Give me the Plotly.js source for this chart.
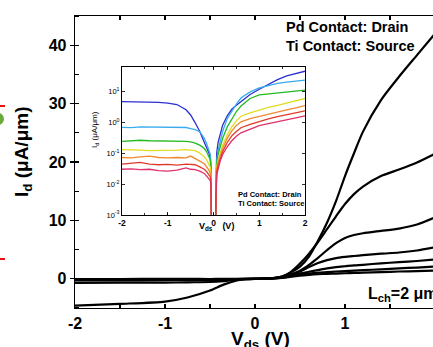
<!DOCTYPE html>
<html>
<head>
<meta charset="utf-8">
<script src="https://cdn.plot.ly/plotly-3.0.1.min.js"></script>
<style>
html,body{margin:0;padding:0;overflow:hidden;background:#fff;width:433px;height:347px;}
#chart{width:437px;height:347px;}
</style>
</head>
<body>
<div id="chart"></div>
<script>
// ---------- Main plot (linear Id vs Vds) ----------
const vMain = [-2, -1.5, -1, -0.75, -0.5, -0.35, -0.2, -0.1, 0, 0.1, 0.2, 0.3, 0.4, 0.5, 0.6, 0.7, 0.8, 0.9, 1.0, 1.1, 1.2, 1.4, 1.6, 1.8, 2.0];
const idMain1 = [-4.6, -4.3, -3.9, -3.2, -2.0, -1.0, -0.3, -0.08, 0, 0.03, 0.12, 0.4, 1.1, 2.1, 3.8, 6.5, 9.6, 13.3, 17.6, 21.5, 25.2, 30.6, 34.6, 38.3, 42.0];
const idMain2 = [-0.7, -0.66, -0.65, -0.6, -0.55, -0.4, -0.15, -0.05, 0, 0.02, 0.1, 0.4, 1.2, 2.6, 4.3, 6.3, 8.5, 10.7, 12.8, 14.5, 15.8, 17.6, 18.7, 19.9, 21.4];
const idMain3 = [-0.26, -0.26, -0.25, -0.25, -0.23, -0.18, -0.1, -0.04, 0, 0.02, 0.1, 0.35, 0.8, 1.4, 2.4, 3.6, 4.9, 6.1, 7.0, 7.5, 7.8, 8.2, 8.6, 9.3, 10.5];
const idMain4 = [-0.13, -0.12, -0.125, -0.125, -0.12, -0.1, -0.06, -0.03, 0, 0.02, 0.1, 0.3, 0.7, 1.25, 2.0, 2.7, 3.2, 3.55, 3.75, 3.9, 4.05, 4.3, 4.5, 4.85, 5.4];
const idMain5 = [-0.072, -0.075, -0.07, -0.072, -0.075, -0.055, -0.04, -0.02, 0, 0.02, 0.08, 0.25, 0.55, 0.9, 1.2, 1.5, 1.8, 2.0, 2.15, 2.3, 2.4, 2.65, 2.85, 3.05, 3.3];
const idMain6 = [-0.044, -0.048, -0.043, -0.041, -0.043, -0.036, -0.03, -0.015, 0, 0.02, 0.07, 0.2, 0.45, 0.7, 0.9, 1.05, 1.15, 1.25, 1.32, 1.4, 1.47, 1.62, 1.78, 1.93, 2.1];
const idMain7 = [-0.03, -0.03, -0.026, -0.028, -0.03, -0.026, -0.022, -0.012, 0, 0.02, 0.06, 0.15, 0.35, 0.55, 0.68, 0.78, 0.85, 0.9, 0.95, 1.0, 1.05, 1.15, 1.25, 1.32, 1.42];

// ---------- Inset (log |Id| vs Vds) ----------
const vInset = [-2, -1.8, -1.6, -1.4, -1.2, -1.0, -0.8, -0.6, -0.5, -0.4, -0.3, -0.2, -0.15, -0.1, -0.07, -0.055, -0.045,
                0.045, 0.05, 0.07, 0.1, 0.15, 0.2, 0.3, 0.4, 0.5, 0.6, 0.8, 1.0, 1.2, 1.4, 1.6, 1.8, 2.0];
const idLog1 = [4.6, 4.55, 4.5, 4.45, 4.35, 4.1, 3.7, 2.5, 1.7, 0.95, 0.5, 0.22, 0.15, 0.1, 0.07, 0.03, 0.0003,
                0.0003, 0.004, 0.1, 0.22, 0.45, 0.8, 1.6, 2.6, 3.5, 4.5, 7.8, 11.5, 16.5, 23.5, 31, 38, 44];
const idLog2 = [0.68, 0.66, 0.7, 0.7, 0.68, 0.7, 0.7, 0.67, 0.62, 0.57, 0.49, 0.3, 0.2, 0.12, 0.09, 0.04, 0.0003,
                0.0003, 0.004, 0.06, 0.12, 0.28, 0.5, 1.3, 2.3, 3.8, 6.0, 9.5, 12.7, 15.3, 17.8, 19.5, 21.2, 22.7];
const idLog3 = [0.24, 0.25, 0.26, 0.25, 0.25, 0.25, 0.25, 0.24, 0.23, 0.21, 0.18, 0.14, 0.11, 0.08, 0.06, 0.03, 0.0003,
                0.0003, 0.004, 0.045, 0.09, 0.18, 0.3, 0.7, 1.25, 2.2, 3.3, 5.8, 7.6, 8.2, 8.8, 9.4, 10.1, 10.8];
const idLog4 = [0.13, 0.13, 0.125, 0.12, 0.12, 0.125, 0.125, 0.13, 0.125, 0.12, 0.1, 0.075, 0.06, 0.045, 0.035, 0.02, 0.0003,
                0.0003, 0.004, 0.035, 0.06, 0.11, 0.18, 0.38, 0.7, 1.1, 1.55, 2.0, 2.5, 3.0, 3.5, 4.2, 5.0, 5.8];
const idLog5 = [0.072, 0.07, 0.075, 0.08, 0.072, 0.07, 0.072, 0.07, 0.08, 0.068, 0.055, 0.045, 0.036, 0.028, 0.022, 0.015, 0.0003,
                0.0003, 0.004, 0.03, 0.05, 0.09, 0.14, 0.3, 0.52, 0.78, 1.02, 1.3, 1.55, 1.8, 2.1, 2.5, 2.9, 3.4];
const idLog6 = [0.044, 0.048, 0.05, 0.044, 0.042, 0.043, 0.041, 0.044, 0.043, 0.042, 0.036, 0.03, 0.025, 0.02, 0.017, 0.012, 0.0003,
                0.0003, 0.004, 0.025, 0.04, 0.07, 0.11, 0.22, 0.36, 0.5, 0.66, 0.85, 1.05, 1.28, 1.5, 1.75, 2.0, 2.3];
const idLog7 = [0.03, 0.031, 0.029, 0.03, 0.027, 0.026, 0.028, 0.033, 0.03, 0.029, 0.026, 0.022, 0.018, 0.015, 0.013, 0.01, 0.0003,
                0.0003, 0.004, 0.02, 0.033, 0.058, 0.09, 0.16, 0.25, 0.35, 0.45, 0.6, 0.77, 0.9, 1.02, 1.18, 1.38, 1.6];

const insetColors = ['#2a2fd0', '#3aaaf0', '#22bb22', '#e2dc20', '#f08a30', '#e03a28', '#e0306a'];
const mainSeries = [idMain1, idMain2, idMain3, idMain4, idMain5, idMain6, idMain7];
const insetSeries = [idLog1, idLog2, idLog3, idLog4, idLog5, idLog6, idLog7];

const xTickVals = [-2, -1, 0, 1, 2];
const yTickVals = [0, 10, 20, 30, 40];
const logTickVals = [0.001, 0.01, 0.1, 1, 10];
const logTickText = ['10<sup>-3</sup>', '10<sup>-2</sup>', '10<sup>-1</sup>', '10<sup>0</sup>', '10<sup>1</sup>'];

// pixel -> paper helpers (plot area: x 75..435, y 16..308)
const PX0 = 75, PW = 360, PY0 = 16, PH = 292;
const px = v => (v - PX0) / PW;
const py = v => (PY0 + PH - v) / PH;

const FONT = 'Arial, "Liberation Sans", sans-serif';

const traces = [];
mainSeries.forEach(s => traces.push({
  x: vMain, y: s, xaxis: 'x', yaxis: 'y', type: 'scatter', mode: 'lines',
  line: {color: '#000', width: 2.2, shape: 'spline', smoothing: 0.7}, hoverinfo: 'skip'
}));
insetSeries.forEach((s, i) => traces.push({
  x: vInset, y: s, xaxis: 'x2', yaxis: 'y2', type: 'scatter', mode: 'lines',
  line: {color: insetColors[i], width: 1.3}, hoverinfo: 'skip'
}));

const layout = {
  width: 437, height: 347,
  margin: {l: 75, r: 2, t: 16, b: 39},
  paper_bgcolor: '#fff', plot_bgcolor: '#fff',
  showlegend: false,
  font: {family: FONT, color: '#000'},
  xaxis: {
    domain: [0, 1], range: [-2, 2], tickvals: xTickVals, ticktext: xTickVals.map(String),
    showgrid: false, zeroline: false, showline: true, linecolor: '#000', linewidth: 1.3,
    ticks: 'inside', ticklen: 4, tickwidth: 1.2, tickcolor: '#000', mirror: 'allticks',
    minor: {dtick: 0.5, ticks: 'inside', ticklen: 4, tickwidth: 1.2, tickcolor: '#000', showgrid: false},
    tickfont: {size: 16, weight: 'bold', family: FONT}
  },
  yaxis: {
    domain: [0, 1], range: [-5, 45], tickvals: yTickVals, ticktext: yTickVals.map(String),
    showgrid: false, zeroline: false, showline: true, linecolor: '#000', linewidth: 1.3,
    ticks: 'outside', ticklen: 4, tickwidth: 1.2, tickcolor: '#000',
    minor: {dtick: 5, tick0: 0, ticks: 'inside', ticklen: 4, tickwidth: 1.2, tickcolor: '#000', showgrid: false},
    tickfont: {size: 16, weight: 'bold', family: FONT}, mirror: true
  },
  xaxis2: {
    domain: [px(122), px(305)], anchor: 'y2', range: [-2, 2], tickvals: xTickVals, ticktext: xTickVals.map(String),
    showgrid: false, zeroline: false, showline: true, linecolor: '#000', linewidth: 1,
    ticks: 'inside', ticklen: 3, tickwidth: 0.8, tickcolor: '#000', mirror: 'allticks',
    minor: {dtick: 0.5, ticks: 'inside', ticklen: 2, tickwidth: 0.8, tickcolor: '#000', showgrid: false},
    tickfont: {size: 8.5, weight: 'bold', family: FONT}
  },
  yaxis2: {
    domain: [py(215), py(67)], anchor: 'x2', type: 'log', range: [-3, 1.78],
    tickvals: logTickVals, ticktext: logTickText,
    showgrid: false, zeroline: false, showline: true, linecolor: '#000', linewidth: 1,
    ticks: 'inside', ticklen: 3, tickwidth: 0.8, tickcolor: '#000', mirror: 'allticks',
    tickfont: {size: 7.5, family: FONT}
  },
  annotations: [
    {xref: 'paper', yref: 'paper', x: px(284), y: py(27), xanchor: 'left', yanchor: 'middle', showarrow: false,
     text: 'Pd Contact: Drain', font: {size: 14.5, weight: 'bold', family: FONT}},
    {xref: 'paper', yref: 'paper', x: px(284), y: py(46), xanchor: 'left', yanchor: 'middle', showarrow: false,
     text: 'Ti Contact: Source', font: {size: 14.5, weight: 'bold', family: FONT}},
    {xref: 'paper', yref: 'paper', x: px(366), y: py(294), xanchor: 'left', yanchor: 'middle', showarrow: false,
     text: 'L<sub>ch</sub>=2 μm', font: {size: 16, weight: 'bold', family: FONT}},
    {xref: 'paper', yref: 'paper', x: px(23), y: py(152), xanchor: 'center', yanchor: 'middle', showarrow: false,
     textangle: -90, text: 'I<sub>d</sub> (μA/μm)', font: {size: 19, weight: 'bold', family: FONT}},
    {xref: 'paper', yref: 'paper', x: px(260), y: py(340), xanchor: 'center', yanchor: 'middle', showarrow: false,
     text: 'V<sub>ds</sub> (V)', font: {size: 19, weight: 'bold', family: FONT}},
    {xref: 'paper', yref: 'paper', x: px(236), y: py(194), xanchor: 'left', yanchor: 'middle', showarrow: false,
     text: 'Pd Contact: Drain', font: {size: 7.5, weight: 'bold', family: FONT}},
    {xref: 'paper', yref: 'paper', x: px(236), y: py(203.5), xanchor: 'left', yanchor: 'middle', showarrow: false,
     text: 'Ti Contact: Source', font: {size: 7.5, weight: 'bold', family: FONT}},
    {xref: 'paper', yref: 'paper', x: px(95), y: py(130), xanchor: 'center', yanchor: 'middle', showarrow: false,
     textangle: -90, text: 'I<sub>d</sub> (μA/μm)', font: {size: 8, family: FONT}},
    {xref: 'paper', yref: 'paper', x: px(216), y: py(226), xanchor: 'center', yanchor: 'middle', showarrow: false,
     text: 'V<sub>ds</sub>    (V)', font: {size: 9, weight: 'bold', family: FONT}}
  ],
  shapes: [
    {type: 'line', xref: 'paper', yref: 'paper', x0: px(0), x1: px(5), y0: py(106), y1: py(106),
     line: {color: '#ee1111', width: 2}},
    {type: 'line', xref: 'paper', yref: 'paper', x0: px(0), x1: px(5), y0: py(259), y1: py(259),
     line: {color: '#ee1111', width: 2}},
    {type: 'circle', xref: 'paper', yref: 'paper', x0: px(-8), x1: px(4), y0: py(125), y1: py(113),
     fillcolor: '#6aaa3a', line: {width: 0}}
  ]
};

Plotly.newPlot('chart', traces, layout, {displayModeBar: false, staticPlot: true});
</script>
</body>
</html>
